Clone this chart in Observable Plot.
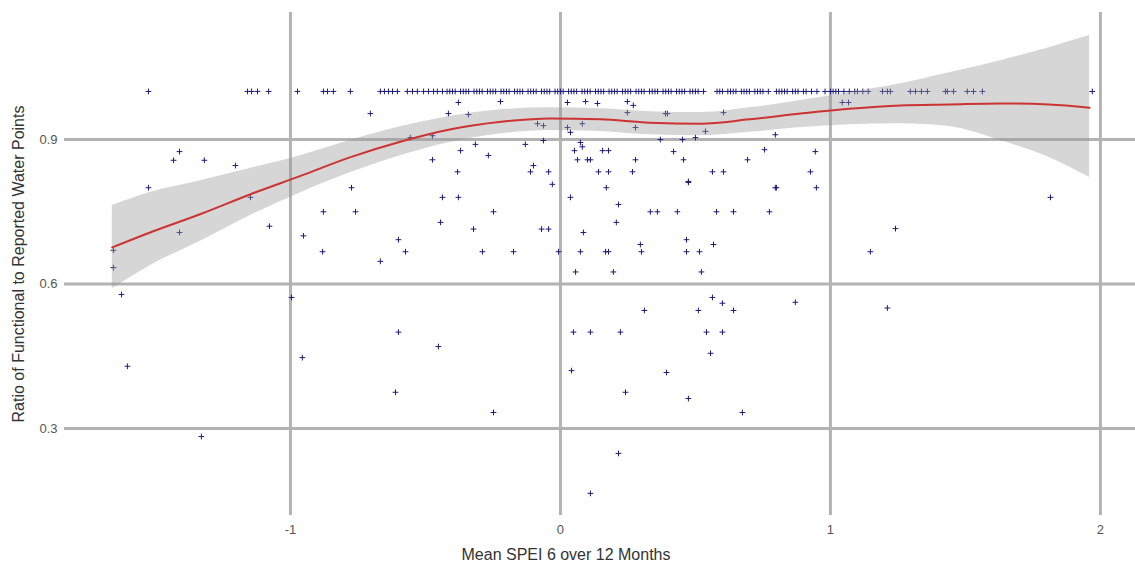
<!DOCTYPE html>
<html><head><meta charset="utf-8">
<script src="https://cdn.jsdelivr.net/npm/d3@7"></script>
<script src="https://cdn.jsdelivr.net/npm/@observablehq/plot@0.6"></script>
<style>body{margin:0;background:#fff;}</style>
</head><body><div id="chart"></div>
<script>
// Axis ticks
const xTicks = [-1, 0, 1, 2];
const yTicks = [0.3, 0.6, 0.9];
const xTitle = "Mean SPEI 6 over 12 Months";
const yTitle = "Ratio of Functional to Reported Water Points";

// Water points where ratio == 1 (all functional)
const fullSpei = [-1.526,-1.159,-1.144,-1.122,-1.081,-0.974,-0.878,-0.863,-0.841,-0.778,-0.667,-0.652,-0.637,-0.622,-0.604,-0.567,-0.548,-0.530,-0.507,-0.489,-0.470,-0.456,-0.437,
-0.42,-0.41,-0.40,-0.39,-0.37,-0.36,-0.35,-0.34,-0.32,-0.31,-0.30,-0.29,-0.27,-0.26,-0.25,-0.24,-0.22,-0.21,-0.20,-0.19,-0.17,-0.16,-0.15,-0.14,-0.12,-0.11,-0.10,-0.09,-0.07,-0.06,-0.05,-0.04,-0.02,-0.01,0.00,0.01,0.03,0.04,0.05,0.06,0.08,0.09,0.10,0.11,0.13,0.14,0.15,0.16,0.18,0.19,0.20,0.21,0.23,0.24,0.25,0.26,0.28,0.29,0.30,0.31,0.33,0.34,0.35,0.36,0.38,0.39,0.40,0.41,0.43,0.44,0.45,0.46,0.48,0.49,0.50,0.51,0.53,0.58,0.59,0.60,0.62,0.63,0.64,0.65,0.67,0.68,0.69,0.70,0.72,0.73,0.74,0.75,0.77,0.80,0.81,0.82,0.83,0.84,0.86,0.87,0.88,0.90,0.91,0.93,0.95,0.98,1.00,1.01,1.02,1.03,1.05,1.07,1.09,1.10,1.12,1.14,
1.193,1.211,1.222,1.296,1.315,1.337,1.359,1.426,1.433,1.456,1.507,1.530,1.563,1.970];
const fullRatio = fullSpei.map(() => 1);

// Water points with ratio < 1
const partSpei = [-1.526,-1.411,-1.433,-1.319,-1.204,-1.656,-1.656,-1.626,-1.604,-1.330,-1.411,-1.148,-1.078,-0.996,-0.952,-0.878,-0.881,-0.774,-0.759,-0.667,-0.600,-0.956,-0.600,-0.611,
-0.030,0.170,0.474,0.800,0.948,-0.437,-0.378,0.037,0.215,-0.248,0.333,0.359,0.433,0.578,0.641,0.774,-0.444,0.207,-0.322,-0.070,-0.044,0.085,0.467,0.567,0.296,-0.574,-0.289,-0.174,-0.007,0.074,0.167,0.178,0.300,0.467,0.515,0.056,0.196,0.522,0.563,0.600,0.870,0.311,0.511,0.641,0.048,0.111,0.222,0.541,0.600,-0.452,0.556,0.041,0.393,0.241,0.474,-0.248,0.674,0.215,0.111,
-0.378,-0.222,0.026,0.093,0.137,0.248,0.270,-0.415,-0.341,-0.704,0.248,0.389,-0.085,-0.063,0.026,0.037,0.081,-0.556,-0.474,0.278,-0.315,-0.130,-0.063,0.074,0.081,0.052,-0.370,-0.267,0.156,0.178,0.063,0.100,0.111,-0.474,0.278,-0.100,-0.111,-0.044,-0.381,0.141,0.178,0.267,0.370,
0.396,0.604,0.537,1.044,1.067,0.452,0.500,0.796,0.419,0.756,0.944,0.456,0.693,0.563,0.604,0.926,0.474,0.796,1.815,1.148,1.241,1.211];
const partRatio = [0.800,0.875,0.857,0.857,0.846,0.634,0.670,0.578,0.429,0.283,0.707,0.780,0.720,0.572,0.700,0.750,0.667,0.800,0.750,0.647,0.692,0.447,0.500,0.375,
0.807,0.800,0.811,0.800,0.800,0.780,0.780,0.780,0.765,0.750,0.750,0.750,0.750,0.750,0.750,0.750,0.728,0.728,0.714,0.714,0.714,0.707,0.692,0.682,0.682,0.667,0.667,0.667,0.667,0.667,0.667,0.667,0.667,0.667,0.667,0.625,0.625,0.625,0.572,0.560,0.562,0.545,0.545,0.545,0.500,0.500,0.500,0.500,0.500,0.470,0.456,0.420,0.416,0.375,0.362,0.333,0.333,0.248,0.165,
0.977,0.979,0.977,0.979,0.975,0.979,0.971,0.954,0.952,0.954,0.956,0.954,0.933,0.929,0.925,0.915,0.933,0.904,0.908,0.925,0.890,0.890,0.898,0.894,0.885,0.877,0.877,0.867,0.877,0.877,0.858,0.858,0.858,0.858,0.858,0.846,0.833,0.833,0.833,0.833,0.833,0.833,0.900,
0.954,0.956,0.917,0.977,0.977,0.900,0.904,0.910,0.875,0.879,0.875,0.858,0.858,0.833,0.833,0.833,0.813,0.800,0.780,0.667,0.715,0.550];

// Loess smooth with confidence band
const smoothX  = [-1.66,-1.52,-1.33,-1.15,-0.96,-0.78,-0.59,-0.41,-0.22,-0.04,0.15,0.33,0.52,0.70,0.89,1.07,1.26,1.44,1.63,1.81,1.96];
const smoothFit= [0.676,0.707,0.746,0.786,0.825,0.863,0.896,0.921,0.937,0.944,0.942,0.935,0.933,0.942,0.954,0.964,0.971,0.973,0.975,0.973,0.966];
const smoothLo = [0.590,0.638,0.690,0.742,0.790,0.831,0.867,0.894,0.912,0.919,0.917,0.910,0.908,0.915,0.925,0.931,0.933,0.927,0.898,0.863,0.821];
const smoothHi = [0.763,0.790,0.815,0.840,0.867,0.898,0.927,0.948,0.962,0.966,0.964,0.958,0.956,0.966,0.981,0.998,1.016,1.039,1.064,1.091,1.116];

const points = [
  ...fullSpei.map((x, i) => ({x, y: fullRatio[i]})),
  ...partSpei.map((x, i) => ({x, y: partRatio[i]}))
];
const smooth = smoothX.map((x, i) => ({x, fit: smoothFit[i], lo: smoothLo[i], hi: smoothHi[i]}));

const gridStyle = {stroke: "#b3b3b3", strokeWidth: 3, strokeOpacity: 1};

const chart = Plot.plot({
  width: 1135, height: 568,
  marginLeft: 64, marginRight: 0, marginTop: 12, marginBottom: 53,
  style: {fontFamily: "'Liberation Sans', Arial, sans-serif", background: "#fff"},
  x: {domain: [-1.837, 2.13]},
  y: {domain: [0.119, 1.164]},
  marks: [
    Plot.gridX(xTicks, gridStyle),
    Plot.gridY(yTicks, gridStyle),
    Plot.axisX(xTicks, {tickSize: 0, tickPadding: 9, fontSize: 13, fill: "#555", label: null, tickFormat: d => String(d)}),
    Plot.axisY(yTicks, {tickSize: 0, tickPadding: 7, fontSize: 13, fill: "#555", label: null, tickFormat: d => d.toFixed(1)}),
    Plot.dot(points, {x: "x", y: "y", symbol: "plus", r: 2, stroke: "#1c1c78", strokeWidth: 1}),
    Plot.areaY(smooth, {x: "x", y1: "lo", y2: "hi", fill: "#999", fillOpacity: 0.4, curve: "monotone-x"}),
    Plot.line(smooth, {x: "x", y: "fit", stroke: "#cc3333", strokeWidth: 2, curve: "monotone-x"}),
    Plot.text([xTitle], {frameAnchor: "bottom", dy: 44, dx: -34, fontSize: 16, fill: "#333"}),
    Plot.text([yTitle], {frameAnchor: "left", textAnchor: "middle", dx: -46, rotate: -90, fontSize: 16, fill: "#333"})
  ]
});
document.getElementById("chart").appendChild(chart);
</script>
</body></html>
